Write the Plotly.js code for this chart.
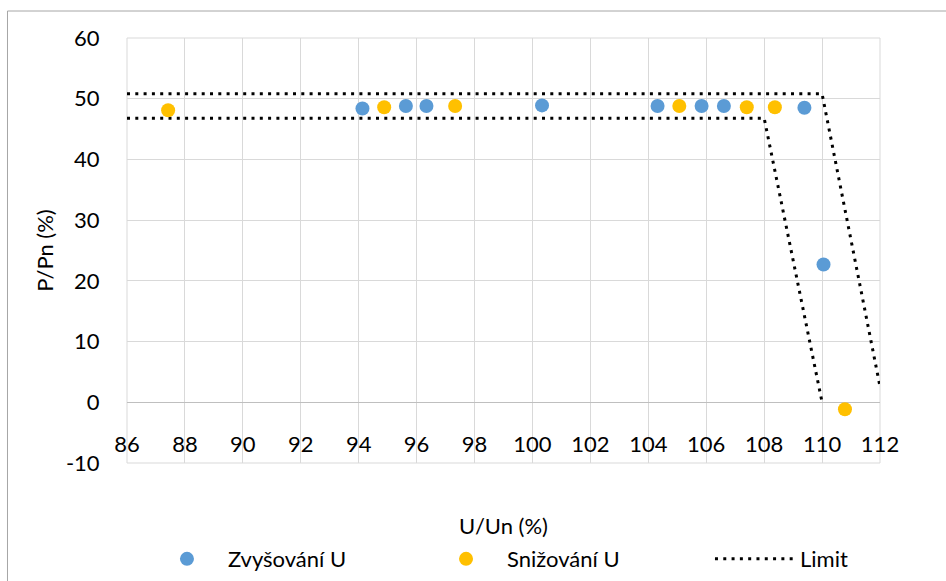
<!DOCTYPE html>
<html>
<head>
<meta charset="utf-8">
<script src="https://cdn.plot.ly/plotly-3.0.1.min.js"></script>
<style>html,body{margin:0;padding:0;background:#fff;}#chart{width:946px;height:581px;}</style>
</head>
<body>
<div id="chart"></div>
<script>
// Data
var zvysX = [94.13, 95.63, 96.34, 100.33, 104.32, 105.84, 106.61, 109.39, 110.05];
var zvysY = [48.4, 48.8, 48.8, 48.9, 48.8, 48.8, 48.8, 48.5, 22.7];
var snizX = [87.42, 94.88, 97.33, 105.07, 107.4, 108.37, 110.79];
var snizY = [48.1, 48.6, 48.8, 48.8, 48.6, 48.6, -1.15];
var limitX = [86, 110, 112, null, 86, 108, 110];
var limitY = [50.8, 50.8, 2.6, null, 46.8, 46.8, 0];
var seriesNames = ["Zvyšování U", "Snižování U", "Limit"];
var yTickVals = [-10, 0, 10, 20, 30, 40, 50, 60];
var yTickText = ["-10", "0", "10", "20", "30", "40", "50", "60"];
var xTitle = "U/Un (%)";
var yTitle = "P/Pn (%)";

var FONT = "Lato, 'Open Sans', sans-serif";
var traces = [
  {x: limitX, y: limitY, name: seriesNames[2], type: "scatter", mode: "lines",
   line: {color: "#000000", width: 3, dash: "3px,5.3px"}, connectgaps: false, legend: "legend3"},
  {x: zvysX, y: zvysY, name: seriesNames[0], type: "scatter", mode: "markers",
   marker: {color: "#5B9BD5", size: 14}, legend: "legend"},
  {x: snizX, y: snizY, name: seriesNames[1], type: "scatter", mode: "markers",
   marker: {color: "#FFC000", size: 14}, legend: "legend2"}
];

var legBase = {orientation: "h", yanchor: "middle", xanchor: "left", y: -0.226,
  font: {family: FONT, size: 22, color: "#000"}, bgcolor: "rgba(0,0,0,0)", borderwidth: 0, itemwidth: 72};

var layout = {
  width: 946, height: 581,
  margin: {l: 127, r: 66, t: 38, b: 118, pad: 0, autoexpand: false},
  paper_bgcolor: "#fff", plot_bgcolor: "#fff",
  font: {family: FONT, size: 22, color: "#000"},
  showlegend: true,
  legend: Object.assign({}, legBase, {x: 0.0252}),
  legend2: Object.assign({}, legBase, {x: 0.3958}),
  legend3: Object.assign({}, legBase, {x: 0.7742, itemwidth: 80}),
  xaxis: {
    range: [86, 112], dtick: 2, tick0: 86, anchor: "free", position: 1/7,
    showgrid: true, gridcolor: "#d9d9d9", gridwidth: 1, zeroline: false, showline: false,
    ticks: "outside", ticklen: 22, tickcolor: "rgba(0,0,0,0)", automargin: false,
    tickfont: {family: FONT, size: 22, color: "#000"},
    title: {text: xTitle, font: {family: FONT, size: 22, color: "#000"}, standoff: 62},
    fixedrange: true
  },
  yaxis: {
    range: [-10, 60], tickmode: "array", tickvals: yTickVals, ticktext: yTickText,
    showgrid: true, gridcolor: "#d9d9d9", gridwidth: 1, automargin: false,
    zeroline: true, zerolinecolor: "#bfbfbf", zerolinewidth: 1, showline: false,
    ticks: "outside", ticklen: 22, tickcolor: "rgba(0,0,0,0)",
    tickfont: {family: FONT, size: 22, color: "#000"},
    title: {text: yTitle, font: {family: FONT, size: 22, color: "#000"}, standoff: 6},
    fixedrange: true
  },
  shapes: [
    {type: "rect", xref: "paper", yref: "paper", x0: 0, x1: 1, y0: 0, y1: 1,
     line: {color: "#d9d9d9", width: 1}, layer: "below"},
    {type: "rect", xref: "paper", yref: "paper", x0: -0.1587, x1: 1.2, y0: -0.35, y1: 1.0635,
     line: {color: "#a6a6a6", width: 1}, layer: "below"}
  ]
};

Plotly.newPlot("chart", traces, layout, {displayModeBar: false, staticPlot: true});
</script>
</body>
</html>
